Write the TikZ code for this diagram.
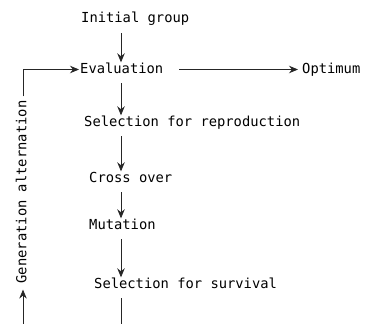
\documentclass[tikz,border=0pt]{standalone}
\usepackage{fontspec}
\setmonofont{DejaVu Sans Mono}
\usetikzlibrary{arrows.meta}
\begin{document}
\begin{tikzpicture}[x=1pt,y=-1pt,
  lbl/.style={font=\ttfamily\fontsize{13.8pt}{16pt}\selectfont, inner sep=0pt, text height=10pt, text depth=3pt, anchor=base west},
  conn/.style={line width=0.8pt, draw=black!85},
  arr/.style={conn, -{Stealth[length=9pt,width=7.5pt,inset=3pt]}},
  flow/.style={arr, shorten <=7pt, shorten >=0.5pt}]
\useasboundingbox (0,0) rectangle (386,324);
\coordinate (ax) at (121,0);
\node[lbl] (init) at (81,23) {Initial group};
\node[lbl] (eval) at (80,73) {Evaluation};
\node[lbl] (opt) at (302,73) {Optimum};
\node[lbl] (selrep) at (84,126) {Selection for reproduction};
\node[lbl] (cross) at (89,182) {Cross over};
\node[lbl] (mut) at (89,229) {Mutation};
\node[lbl] (selsurv) at (94,288) {Selection for survival};
\node[lbl, anchor=center, rotate=90, inner xsep=4pt] (genalt) at (23,192) {Generation alternation};
\coordinate (botmid) at (121,324);
\coordinate (botleft) at (23,324);
\draw[flow] (init.south -| ax) -- (eval.north -| ax);
\draw[flow] (eval.south -| ax) -- (selrep.north -| ax);
\draw[flow] (selrep.south -| ax) -- (cross.north -| ax);
\draw[flow] (cross.south -| ax) -- (mut.north -| ax);
\draw[flow] (mut.south -| ax) -- (selsurv.north -| ax);
\draw[conn, shorten <=7pt] (selsurv.south -| ax) -- (botmid);
\draw[arr, shorten >=2pt] (botleft) -- (genalt.west);
\draw[arr, shorten >=1pt] (genalt.east) |- (eval.west);
\draw[arr, shorten <=16pt, shorten >=4pt] (eval.east) -- (opt.west);
\end{tikzpicture}
\end{document}
